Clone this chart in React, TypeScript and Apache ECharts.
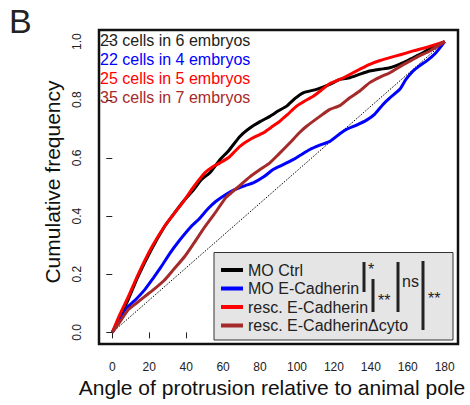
import React, { useEffect, useRef } from "react";
import * as echarts from "echarts";

const FONT = "'Liberation Sans', Arial, Helvetica, sans-serif";

const xTicks = [0, 20, 40, 60, 80, 100, 120, 140, 160, 180];
const yTicks = [0, 0.2, 0.4, 0.6, 0.8, 1.0];

const seriesNames = ["MO Ctrl", "MO E-Cadherin", "resc. E-Cadherin", "resc. E-Cadherin\u0394cyto"];
const seriesColors = ["#000000", "#0000ff", "#ff0000", "#a52a2a"];
const countLabels = ["23 cells in 6 embryos", "22 cells in 4 embryos", "25 cells in 5 embryos", "35 cells in 7 embryos"];

const ctrlAngle = [0, 4, 8.5, 13.9, 21.1, 28.3, 33, 39.2, 44, 48.2, 53, 58.3, 63, 69.1, 74.5, 80, 85.3, 90, 94.4, 99, 103.4, 110.6, 117.8, 123.2, 128.6, 134, 139.4, 145, 150.3, 157.5, 162, 166.5, 172, 180];
const ctrlFreq = [0, 0.05, 0.111, 0.192, 0.284, 0.364, 0.405, 0.456, 0.49, 0.525, 0.55, 0.594, 0.625, 0.674, 0.703, 0.725, 0.743, 0.762, 0.778, 0.805, 0.824, 0.836, 0.853, 0.87, 0.876, 0.888, 0.899, 0.905, 0.91, 0.928, 0.942, 0.956, 0.975, 1.0];

const moAngle = [0, 4, 8.5, 13, 17.5, 22, 26.5, 31, 35.6, 42.7, 47, 51.8, 56, 61.7, 66, 72, 76.3, 82, 87.1, 92, 97.9, 102, 107, 112, 117.8, 123.2, 126.8, 132, 137.7, 142, 146.6, 150, 155.7, 159, 162.9, 166, 170.1, 175, 180];
const moFreq = [0, 0.04, 0.088, 0.115, 0.146, 0.185, 0.226, 0.27, 0.31, 0.364, 0.39, 0.425, 0.45, 0.475, 0.49, 0.505, 0.514, 0.535, 0.56, 0.575, 0.594, 0.61, 0.629, 0.643, 0.657, 0.683, 0.698, 0.712, 0.73, 0.75, 0.784, 0.805, 0.836, 0.87, 0.899, 0.915, 0.933, 0.96, 1.0];

const rescAngle = [0, 4, 8.5, 13.9, 21.1, 28.3, 33, 39.2, 44, 50, 54, 58.3, 63.7, 69.1, 75, 81.7, 86, 90.7, 95, 99.8, 104, 108.8, 113, 117.8, 123.2, 128.6, 134, 139.4, 145, 150.3, 156, 162.9, 170, 180];
const rescFreq = [0, 0.06, 0.12, 0.198, 0.29, 0.365, 0.405, 0.456, 0.5, 0.548, 0.568, 0.583, 0.605, 0.64, 0.665, 0.686, 0.705, 0.726, 0.75, 0.778, 0.795, 0.812, 0.832, 0.856, 0.87, 0.887, 0.905, 0.922, 0.935, 0.945, 0.955, 0.968, 0.98, 1.0];

const cytoAngle = [0, 4, 8.5, 13, 17.5, 22, 28.3, 33, 39.2, 44, 50, 55, 61.7, 65, 69, 74.5, 80, 85.3, 90, 96.2, 101, 105.2, 112.4, 117.8, 123.2, 128.6, 134, 139.4, 145, 150.3, 156, 161.1, 166, 171.9, 180];
const cytoFreq = [0, 0.035, 0.077, 0.1, 0.123, 0.145, 0.18, 0.215, 0.261, 0.305, 0.362, 0.405, 0.465, 0.483, 0.505, 0.535, 0.56, 0.583, 0.612, 0.652, 0.685, 0.709, 0.743, 0.767, 0.78, 0.807, 0.83, 0.859, 0.878, 0.893, 0.915, 0.933, 0.95, 0.968, 1.0];

const refAngle = [0, 180];
const refFreq = [0, 1];

const curves = [
  [ctrlAngle, ctrlFreq],
  [moAngle, moFreq],
  [rescAngle, rescFreq],
  [cytoAngle, cytoFreq],
];

const zip = (a: number[], b: number[]) => a.map((v, i) => [v, b[i]]);

export default function App() {
  const ref = useRef<HTMLDivElement>(null);
  useEffect(() => {
    if (!ref.current) return;
    const chart = echarts.init(ref.current, null, { renderer: "svg" });
    const sigColor = "#222";
    const option: any = {
      animation: false,
      backgroundColor: "#ffffff",
      textStyle: { fontFamily: FONT },
      grid: {
        left: 99,
        top: 30,
        width: 359,
        height: 314,
        show: true,
        borderColor: "#111",
        borderWidth: 2.5,
        backgroundColor: "transparent",
      },
      xAxis: {
        type: "value",
        min: -7.2,
        max: 187.2,
        axisLine: { show: false },
        splitLine: { show: false },
        axisTick: { show: true, customValues: xTicks, length: 6, lineStyle: { color: "#222", width: 1 } },
        axisLabel: { customValues: xTicks, margin: 17, fontSize: 12, color: "#222", fontFamily: FONT },
      },
      yAxis: {
        type: "value",
        min: -0.04,
        max: 1.04,
        axisLine: { show: false },
        splitLine: { show: false },
        axisTick: { show: true, customValues: yTicks, length: 6, lineStyle: { color: "#222", width: 1 } },
        axisLabel: {
          customValues: yTicks,
          rotate: 90,
          margin: 16,
          fontSize: 12,
          color: "#222",
          fontFamily: FONT,
          formatter: (v: number) => v.toFixed(1),
        },
      },
      legend: {
        show: true,
        orient: "vertical",
        left: 216,
        top: 257,
        itemWidth: 22,
        itemHeight: 4,
        itemGap: 2.5,
        icon: "rect",
        z: 10,
        data: seriesNames,
        textStyle: { fontSize: 16, lineHeight: 16, color: "#222", fontFamily: FONT, padding: [0, 0, 0, 0] },
      },
      series: [
        {
          type: "line",
          name: "ref",
          data: zip(refAngle, refFreq),
          symbol: "none",
          silent: true,
          lineStyle: { color: "#000", width: 1, type: [1.5, 1.5] },
          z: 1,
        },
        ...curves.map((c, i) => ({
          type: "line",
          name: seriesNames[i],
          data: zip(c[0], c[1]),
          symbol: "none",
          smooth: 0.2,
          color: seriesColors[i],
          lineStyle: { color: seriesColors[i], width: 3, join: "round" },
          z: 2 + i,
        })),
      ],
      graphic: [
        { type: "text", left: 9, top: 4, style: { text: "B", fontSize: 34, fill: "#222", fontFamily: FONT } },
        ...countLabels.map((t, i) => ({
          type: "text",
          x: 100,
          y: 40 + i * 19,
          style: { text: t, fontSize: 16, fill: seriesColors[i] === "#000000" ? "#222" : seriesColors[i], fontFamily: FONT, textVerticalAlign: "middle", textAlign: "left" },
          z: 20,
        })),
        {
          type: "text",
          x: 272,
          y: 387,
          style: { text: "Angle of protrusion relative to animal pole", fontSize: 21, fill: "#111", fontFamily: FONT, textAlign: "center", textVerticalAlign: "middle" },
        },
        {
          type: "text",
          x: 52,
          y: 182,
          rotation: Math.PI / 2,
          style: { text: "Cumulative frequency", fontSize: 21, fill: "#111", fontFamily: FONT, textAlign: "center", textVerticalAlign: "middle" },
        },
        {
          type: "rect",
          shape: { x: 214, y: 252.5, width: 239, height: 87.5 },
          style: { fill: "#e5e5e5", stroke: "#333", lineWidth: 1 },
          z: 5,
        },
        { type: "line", shape: { x1: 364, y1: 262, x2: 364, y2: 292 }, style: { stroke: sigColor, lineWidth: 3 }, z: 11 },
        { type: "line", shape: { x1: 373, y1: 279, x2: 373, y2: 312 }, style: { stroke: sigColor, lineWidth: 3 }, z: 11 },
        { type: "line", shape: { x1: 398, y1: 262, x2: 398, y2: 312 }, style: { stroke: sigColor, lineWidth: 3 }, z: 11 },
        { type: "line", shape: { x1: 423, y1: 261, x2: 423, y2: 330 }, style: { stroke: sigColor, lineWidth: 3 }, z: 11 },
        { type: "text", x: 368, y: 261, style: { text: "*", fontSize: 16, fill: sigColor, fontFamily: FONT }, z: 11 },
        { type: "text", x: 378, y: 292, style: { text: "**", fontSize: 16, fill: sigColor, fontFamily: FONT }, z: 11 },
        { type: "text", x: 402, y: 273, style: { text: "ns", fontSize: 16, fill: sigColor, fontFamily: FONT }, z: 11 },
        { type: "text", x: 428, y: 290, style: { text: "**", fontSize: 16, fill: sigColor, fontFamily: FONT }, z: 11 },
      ],
    };
    chart.setOption(option);
    return () => chart.dispose();
  }, []);
  return <div ref={ref} style={{ width: 470, height: 405, position: "absolute", left: 0, top: 0 }} />;
}
